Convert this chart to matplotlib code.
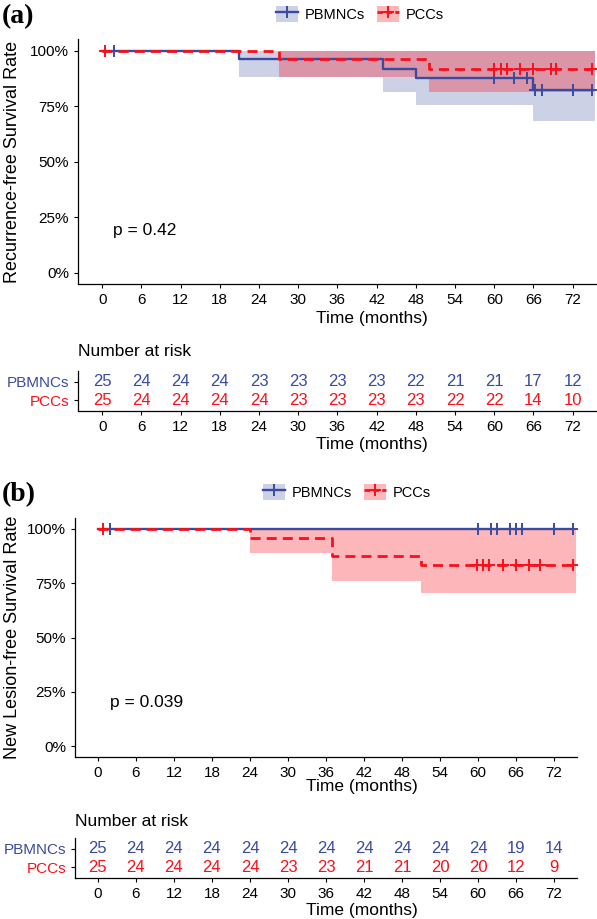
import numpy as np
import matplotlib
matplotlib.use("Agg")
import matplotlib.pyplot as plt
from matplotlib.lines import Line2D
from matplotlib.patches import Patch
from matplotlib.legend_handler import HandlerTuple

plt.rcParams["font.family"] = ["Liberation Sans", "DejaVu Sans"]

# ---------------------------------------------------------------------------
# Data
# ---------------------------------------------------------------------------
groups = ["PBMNCs", "PCCs"]
risk_times = [0, 6, 12, 18, 24, 30, 36, 42, 48, 54, 60, 66, 72]

# (a) recurrence-free survival
a_pb_time = [0, 21, 43, 48, 66, 75]
a_pb_surv = [1.0, 0.96, 0.918, 0.876, 0.822, 0.822]
a_pb_low = [1.0, 0.882, 0.814, 0.753, 0.683, 0.683]
a_pb_cens = [1.8, 60, 63, 65, 66.3, 67.3, 72, 75]
a_pc_time = [0, 27, 50, 75]
a_pc_surv = [1.0, 0.96, 0.917, 0.917]
a_pc_low = [1.0, 0.882, 0.814, 0.814]
a_pc_cens = [0.5, 60, 61, 62, 64, 66, 68.7, 69.5, 75]
a_pb_risk = [25, 24, 24, 24, 23, 23, 23, 23, 22, 21, 21, 17, 12]
a_pc_risk = [25, 24, 24, 24, 24, 23, 23, 23, 23, 22, 22, 14, 10]
a_pval = "p = 0.42"

# (b) new lesion-free survival
b_pb_time = [0, 75]
b_pb_surv = [1.0, 1.0]
b_pb_low = [1.0, 1.0]
b_pb_cens = [2, 60, 62, 63, 65, 66, 67, 72, 75]
b_pc_time = [0, 24, 37, 51, 75]
b_pc_surv = [1.0, 0.96, 0.877, 0.835, 0.835]
b_pc_low = [1.0, 0.891, 0.762, 0.707, 0.707]
b_pc_cens = [0.8, 59.8, 60.8, 61.7, 64, 66, 68, 69.7, 75]
b_pb_risk = [25, 24, 24, 24, 24, 24, 24, 24, 24, 24, 24, 19, 14]
b_pc_risk = [25, 24, 24, 24, 24, 23, 23, 21, 21, 20, 20, 12, 9]
b_pval = "p = 0.039"

band_end = 75.4

# ---------------------------------------------------------------------------
# Style
# ---------------------------------------------------------------------------
W, H = 597, 919
BLUE = "#3A4B9E"
RED = "#FA0F1A"
BLUE_A = 0.25
RED_A = 0.30

fig = plt.figure(figsize=(W / 100, H / 100), dpi=100)


def px_axes(left, top, right, bottom):
    return fig.add_axes([left / W, 1 - bottom / H, (right - left) / W, (bottom - top) / H])


def style_axes(ax):
    for s in ("top", "right"):
        ax.spines[s].set_visible(False)
    for s in ("left", "bottom"):
        ax.spines[s].set_linewidth(0.9)
    ax.tick_params(length=3, width=0.8, labelsize=11, colors="black")


def step_at(times, vals, t):
    return vals[np.searchsorted(times, t, side="right") - 1]


def draw_curve(ax, times, surv, low, cens, color, alpha, dashed):
    t_band = list(times[:-1]) + [band_end]
    ax.fill_between(t_band, low, 1.0, step="post", color=color, alpha=alpha, lw=0)
    kw = dict(dashes=(3.6, 2.2)) if dashed else {}
    ax.step(times, surv, where="post", color=color, lw=2.0 if dashed else 1.7, **kw)
    cy = [step_at(np.array(times), np.array(surv), c) for c in cens]
    ax.plot(cens, cy, ls="none", marker="+", ms=8, mew=1.4, color=color, zorder=5)


def panel(tag, ylabel, top_y, main_box, tab_box, xlim, curves, risks, pval, pval_xy,
          leg_xy, xl_main, xl_tab, nar_y):
    fig.text(2 / W, 1 - top_y / H, tag, fontsize=20, fontweight="bold",
             family="Liberation Serif", ha="left", va="center")

    ax = px_axes(*main_box)
    for c in curves:
        draw_curve(ax, *c)
    ax.set_xlim(*xlim)
    ax.set_ylim(-0.05, 1.05)
    ax.set_xticks(risk_times)
    ax.set_yticks([0, 0.25, 0.5, 0.75, 1.0])
    ax.set_yticklabels(["0%", "25%", "50%", "75%", "100%"])
    style_axes(ax)
    ax.text(pval_xy[0], pval_xy[1], pval, fontsize=12.5, ha="left", va="center",
            transform=ax.transData)

    mid = (main_box[1] + main_box[3]) / 2
    fig.text(13 / W, 1 - mid / H, ylabel, rotation=90, fontsize=13,
             ha="center", va="center")
    fig.text(xl_main[0] / W, 1 - xl_main[1] / H, "Time (months)", fontsize=12.5,
             ha="center", va="center")

    handles = [
        (Patch(facecolor=BLUE, alpha=BLUE_A, edgecolor="none"),
         Line2D([], [], color=BLUE, lw=1.7, marker="+", ms=8, mew=1.4)),
        (Patch(facecolor=RED, alpha=RED_A, edgecolor="none"),
         Line2D([], [], color=RED, lw=2.0, dashes=(2, 1.2), marker="+", ms=8, mew=1.4)),
    ]
    fig.legend(handles, groups, loc="center", bbox_to_anchor=(leg_xy[0] / W, 1 - leg_xy[1] / H),
               ncol=2, frameon=False, fontsize=10.5, handlelength=1.5, handleheight=1.3,
               handletextpad=0.5, columnspacing=0.8,
               handler_map={tuple: HandlerTuple(ndivide=1)})

    # risk table
    tb = px_axes(*tab_box)
    tb.set_xlim(*xlim)
    tb.set_ylim(0.4, 2.6)
    for row, (vals, col) in enumerate(zip(risks, [BLUE, RED])):
        y = 2 - row
        for t, n in zip(risk_times, vals):
            tb.text(t, y, str(n), color=col, fontsize=12, ha="center", va="center")
    tb.set_xticks(risk_times)
    tb.set_yticks([2, 1])
    tb.set_yticklabels(groups, fontsize=11.5)
    style_axes(tb)
    for lab, col in zip(tb.get_yticklabels(), [BLUE, RED]):
        lab.set_color(col)
    fig.text(tab_box[0] / W, 1 - nar_y / H, "Number at risk", fontsize=12.5,
             ha="left", va="center")
    fig.text(xl_tab[0] / W, 1 - xl_tab[1] / H, "Time (months)", fontsize=12.5,
             ha="center", va="center")


panel("(a)", "Recurrence-free Survival Rate", 17,
      (78, 39.4, 606, 284), (78, 371, 606, 411), (-3.7, 77.1),
      [(a_pb_time, a_pb_surv, a_pb_low, a_pb_cens, BLUE, BLUE_A, False),
       (a_pc_time, a_pc_surv, a_pc_low, a_pc_cens, RED, RED_A, True)],
      [a_pb_risk, a_pc_risk], a_pval, (1.7, 0.19),
      (360, 14), (372, 318), (372, 445), 352)

panel("(b)", "New Lesion-free Survival Rate", 495,
      (75, 518, 577, 757), (75, 838, 577, 878), (-3.6, 75.6),
      [(b_pb_time, b_pb_surv, b_pb_low, b_pb_cens, BLUE, BLUE_A, False),
       (b_pc_time, b_pc_surv, b_pc_low, b_pc_cens, RED, RED_A, True)],
      [b_pb_risk, b_pc_risk], b_pval, (1.9, 0.20),
      (347, 492), (362, 786), (362, 910), 822)

fig.savefig("out.png", dpi=100)
